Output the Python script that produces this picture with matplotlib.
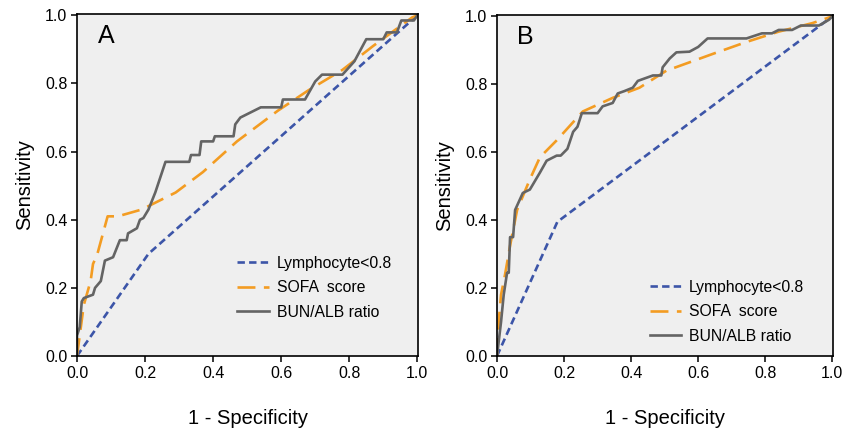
import matplotlib
matplotlib.use("Agg")
import matplotlib.pyplot as plt

plt.rcParams["font.family"] = ["Liberation Sans", "DejaVu Sans"]

# Panel A
lymph_a_x = [0.0, 0.21, 1.0]
lymph_a_y = [0.0, 0.30, 1.0]

sofa_a_x = [0.0, 0.02, 0.04, 0.047, 0.06, 0.09, 0.12, 0.19, 0.29, 0.37, 0.47, 0.59, 0.68, 0.78, 0.87, 0.985, 1.0]
sofa_a_y = [0.0, 0.15, 0.22, 0.27, 0.30, 0.41, 0.41, 0.43, 0.48, 0.54, 0.63, 0.72, 0.78, 0.84, 0.91, 0.994, 1.0]

bun_a_x = [0.0, 0.0, 0.008, 0.014, 0.02, 0.047, 0.053, 0.07, 0.082, 0.106, 0.126, 0.146, 0.15, 0.176, 0.185,
           0.195, 0.21, 0.23, 0.25, 0.26, 0.33, 0.335, 0.36, 0.365, 0.40, 0.405, 0.46, 0.465, 0.48,
           0.51, 0.54, 0.60, 0.605, 0.67, 0.70, 0.72, 0.78, 0.815, 0.85, 0.90, 0.91, 0.94, 0.953,
           0.99, 1.0]
bun_a_y = [0.0, 0.06, 0.085, 0.16, 0.17, 0.18, 0.20, 0.22, 0.28, 0.29, 0.34, 0.34, 0.36, 0.375, 0.40,
           0.405, 0.43, 0.48, 0.54, 0.57, 0.57, 0.59, 0.59, 0.63, 0.63, 0.645, 0.645, 0.68, 0.70,
           0.715, 0.73, 0.73, 0.753, 0.753, 0.806, 0.826, 0.826, 0.865, 0.93, 0.93, 0.95, 0.95, 0.985,
           0.985, 1.0]

# Panel B
lymph_b_x = [0.0, 0.18, 1.0]
lymph_b_y = [0.0, 0.395, 1.0]

sofa_b_x = [0.0, 0.005, 0.012, 0.024, 0.04, 0.06, 0.098, 0.128, 0.178, 0.256, 0.345, 0.425, 0.505, 0.645, 0.745, 0.84, 0.94, 1.0]
sofa_b_y = [0.0, 0.10, 0.18, 0.24, 0.33, 0.43, 0.52, 0.585, 0.635, 0.72, 0.76, 0.79, 0.84, 0.89, 0.925, 0.955, 0.98, 1.0]

bun_b_x = [0.0, 0.012, 0.02, 0.03, 0.035, 0.039, 0.048, 0.054, 0.077, 0.098, 0.11, 0.128, 0.148, 0.178,
           0.19, 0.21, 0.227, 0.24, 0.253, 0.30, 0.315, 0.345, 0.36, 0.38, 0.405, 0.42, 0.465, 0.49,
           0.494, 0.515, 0.535, 0.574, 0.60, 0.628, 0.744, 0.79, 0.82, 0.84, 0.88, 0.906, 0.96, 0.976,
           0.99, 1.0]
bun_b_y = [0.0, 0.10, 0.18, 0.245, 0.245, 0.35, 0.35, 0.43, 0.48, 0.49, 0.51, 0.54, 0.575, 0.59,
           0.59, 0.61, 0.66, 0.675, 0.715, 0.715, 0.735, 0.745, 0.773, 0.78, 0.79, 0.81, 0.826, 0.826,
           0.85, 0.876, 0.894, 0.896, 0.91, 0.935, 0.935, 0.95, 0.95, 0.96, 0.96, 0.973, 0.973, 0.982,
           0.99, 1.0]

labels = ["Lymphocyte<0.8", "SOFA  score", "BUN/ALB ratio"]
ticks = [0.0, 0.2, 0.4, 0.6, 0.8, 1.0]

blue = "#3C55A8"
orange = "#F39C22"
gray = "#646464"

fig = plt.figure(figsize=(8.46, 4.32), dpi=100)
ax_a = fig.add_axes([77 / 846, 1 - 356 / 432, 341 / 846, 342 / 432])
ax_b = fig.add_axes([497 / 846, 1 - 356 / 432, 336 / 846, 341 / 432])

panels = [
    (ax_a, "A", lymph_a_x, lymph_a_y, sofa_a_x, sofa_a_y, bun_a_x, bun_a_y, (0.47, 0.2)),
    (ax_b, "B", lymph_b_x, lymph_b_y, sofa_b_x, sofa_b_y, bun_b_x, bun_b_y, (0.455, 0.13)),
]

for ax, letter, lx, ly, sx, sy, bx, by, leg_pos in panels:
    ax.set_facecolor("#EFEFEF")
    ax.plot(lx, ly, color=blue, lw=1.9, linestyle=(0, (2.8, 1.6)), label=labels[0])
    ax.plot(sx, sy, color=orange, lw=1.9, linestyle=(0, (6.8, 3.2)), label=labels[1])
    ax.plot(bx, by, color=gray, lw=1.9, label=labels[2])

    ax.set_xlim(0, 1.002)
    ax.set_ylim(0, 1.004)
    ax.set_xticks(ticks)
    ax.set_yticks(ticks)
    ax.tick_params(direction="out", length=4, width=1.1, labelsize=11.5, pad=3)
    for s in ax.spines.values():
        s.set_linewidth(1.2)

    ax.set_xlabel("1 - Specificity", fontsize=14.5, labelpad=20)
    ax.set_ylabel("Sensitivity", fontsize=14.5, labelpad=8)
    ax.text(0.06, 0.935, letter, transform=ax.transAxes, fontsize=18, va="center", ha="left")

    ax.legend(loc="center left", bbox_to_anchor=leg_pos, frameon=False, fontsize=11.3,
              handlelength=2.0, handletextpad=0.5, labelspacing=0.6,
              borderaxespad=0, borderpad=0)

fig.savefig("out.png", dpi=100)
